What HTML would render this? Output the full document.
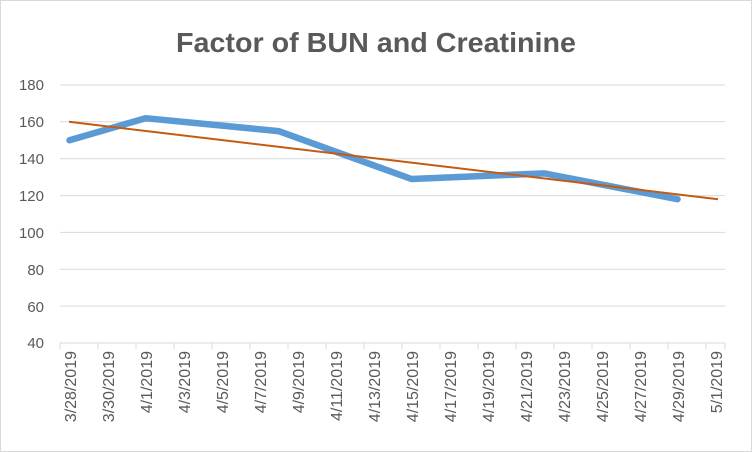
<!DOCTYPE html><html><head><style>body{margin:0;background:#fff}svg{display:block;font-family:"Liberation Sans",sans-serif}</style></head><body>
<svg width="752" height="452" viewBox="0 0 752 452">
<rect x="0.5" y="0.5" width="751" height="451" fill="#fff" stroke="#d9d9d9"/>
<text x="376" y="52" text-anchor="middle" font-size="28" font-weight="bold" fill="#595959" textLength="400" lengthAdjust="spacingAndGlyphs">Factor of BUN and Creatinine</text>
<g stroke="#d9d9d9" stroke-width="1">
<line x1="60" x2="725" y1="85" y2="85"/><line x1="60" x2="725" y1="121.8" y2="121.8"/><line x1="60" x2="725" y1="158.7" y2="158.7"/><line x1="60" x2="725" y1="195.6" y2="195.6"/><line x1="60" x2="725" y1="232.4" y2="232.4"/><line x1="60" x2="725" y1="269.3" y2="269.3"/><line x1="60" x2="725" y1="306.1" y2="306.1"/><line x1="60" x2="725" y1="343" y2="343"/>
</g>
<g stroke="#d9d9d9"><path d="M60 343v6M98 343v6M136 343v6M174 343v6M212 343v6M250 343v6M288 343v6M326 343v6M364 343v6M402 343v6M440 343v6M478 343v6M516 343v6M554 343v6M592 343v6M630 343v6M668 343v6M706 343v6M725 343v6"/></g>
<g font-size="15" fill="#595959" text-anchor="end">
<text x="44" y="90">180</text><text x="44" y="127">160</text><text x="44" y="164">140</text><text x="44" y="201">120</text><text x="44" y="238">100</text><text x="44" y="275">80</text><text x="44" y="312">60</text><text x="44" y="348">40</text>
</g>
<g font-size="16" fill="#595959" text-anchor="end">
<text transform="translate(76,351) rotate(-90)">3/28/2019</text>
<text transform="translate(114,351) rotate(-90)">3/30/2019</text>
<text transform="translate(152,351) rotate(-90)">4/1/2019</text>
<text transform="translate(190,351) rotate(-90)">4/3/2019</text>
<text transform="translate(228,351) rotate(-90)">4/5/2019</text>
<text transform="translate(266,351) rotate(-90)">4/7/2019</text>
<text transform="translate(304,351) rotate(-90)">4/9/2019</text>
<text transform="translate(342,351) rotate(-90)">4/11/2019</text>
<text transform="translate(380,351) rotate(-90)">4/13/2019</text>
<text transform="translate(418,351) rotate(-90)">4/15/2019</text>
<text transform="translate(456,351) rotate(-90)">4/17/2019</text>
<text transform="translate(494,351) rotate(-90)">4/19/2019</text>
<text transform="translate(532,351) rotate(-90)">4/21/2019</text>
<text transform="translate(570,351) rotate(-90)">4/23/2019</text>
<text transform="translate(608,351) rotate(-90)">4/25/2019</text>
<text transform="translate(646,351) rotate(-90)">4/27/2019</text>
<text transform="translate(684,351) rotate(-90)">4/29/2019</text>
<text transform="translate(722,351) rotate(-90)">5/1/2019</text>
</g>
<polyline points="69.5,140.3 145.5,118.2 278.5,131.1 411.5,179 544.5,173.4 677.5,199.2" fill="none" stroke="#5b9bd5" stroke-width="6.5" stroke-linejoin="round" stroke-linecap="round"/>
<line x1="69" y1="121.8" x2="718" y2="199.2" stroke="#c55a11" stroke-width="2"/>
</svg></body></html>
